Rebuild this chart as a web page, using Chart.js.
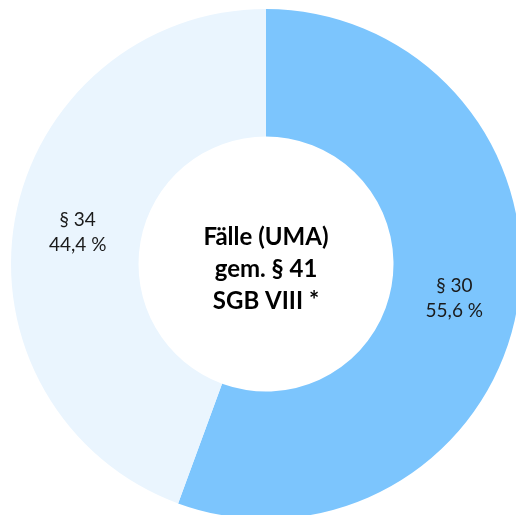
<!DOCTYPE html>
<html>
<head>
<meta charset="utf-8">
<script src="https://cdn.jsdelivr.net/npm/chart.js@4/dist/chart.umd.min.js"></script>
<style>
  html, body { margin: 0; padding: 0; background: #fff; overflow: hidden; }
  #wrap { position: absolute; left: 11px; top: 9px; width: 510px; height: 510px; }
</style>
</head>
<body>
<div id="wrap"><canvas id="grafica" width="510" height="510"></canvas></div>
<script>
const etiquetas = ['§ 30', '§ 34'];
const anteile = [55.6, 44.4];
const farben = ['#7cc5fd', '#eaf5fe'];
const titel = ['Fälle (UMA)', 'gem. § 41', 'SGB VIII *'];

const schrift = 'Lato, "Open Sans", sans-serif';

// Beschriftung der Segmente und Text in der Mitte
const beschriftung = {
    id: 'beschriftung',
    afterDatasetsDraw(chart) {
        const ctx = chart.ctx;
        const meta = chart.getDatasetMeta(0);
        ctx.save();
        ctx.textAlign = 'center';
        ctx.textBaseline = 'alphabetic';

        ctx.fillStyle = '#1a1a1a';
        ctx.font = '19px ' + schrift;
        meta.data.forEach((bogen, i) => {
            const pos = bogen.tooltipPosition();
            const prozent = anteile[i].toFixed(1).replace('.', ',') + ' %';
            ctx.fillText(etiquetas[i], pos.x, pos.y - 5);
            ctx.fillText(prozent, pos.x, pos.y + 20);
        });

        const mitte = meta.data[0];
        ctx.fillStyle = '#000';
        ctx.font = 'bold 24px ' + schrift;
        titel.forEach((zeile, i) => {
            ctx.fillText(zeile, mitte.x, mitte.y - 19 + i * 32);
        });
        ctx.restore();
    }
};

const ctx = document.getElementById('grafica').getContext('2d');
const myChart = new Chart(ctx, {
    type: 'doughnut',
    data: {
        labels: etiquetas,
        datasets: [{
            data: anteile,
            backgroundColor: farben,
            borderWidth: 0
        }]
    },
    options: {
        responsive: false,
        animation: false,
        cutout: '50%',
        plugins: {
            legend: { display: false },
            tooltip: { enabled: false }
        }
    },
    plugins: [beschriftung]
});
</script>
</body>
</html>
